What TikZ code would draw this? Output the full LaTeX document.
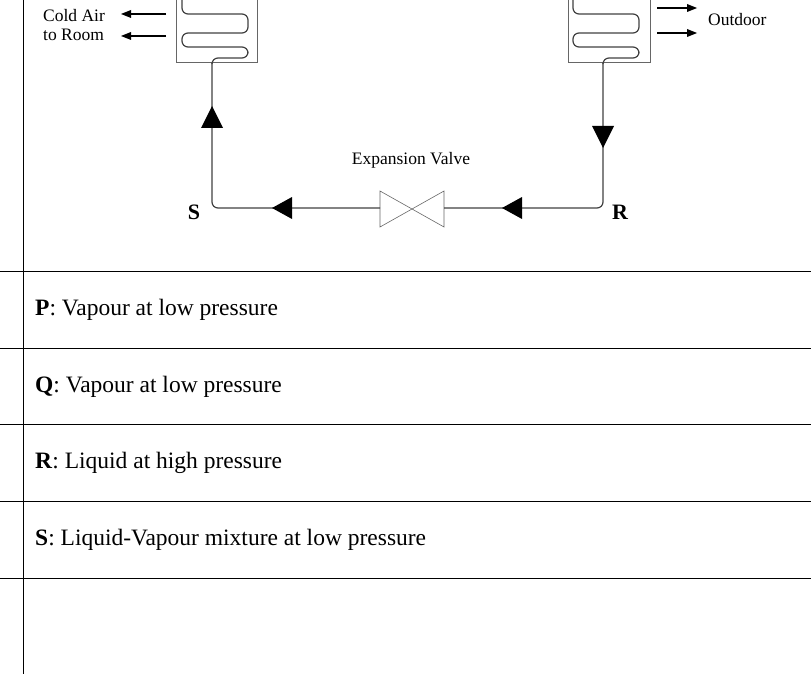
\documentclass[tikz,border=0pt]{standalone}
\usepackage{fontspec}
\setmainfont{Liberation Serif}
\begin{document}
\begin{tikzpicture}[x=1pt,y=-1pt,
  pipe/.style={draw=black!75,line width=1.2pt,rounded corners=6pt},
  box/.style={draw=black!60,line width=0.6pt},
  tri/.style={fill=black},
  small/.style={font=\fontsize{17.5}{19}\selectfont,inner sep=0},
  row/.style={font=\fontsize{23.5}{27}\selectfont,anchor=west,inner sep=0},
  air/.style={line width=1.6pt}]
\useasboundingbox (0,0) rectangle (811,674);
\draw[line width=0.6pt] (23,0) -- (23,674);
\foreach \y in {271,348,424,501,578} \draw[line width=0.6pt] (0,\y) -- (811,\y);
% boxes
\node[box,minimum width=81pt,minimum height=70pt,anchor=south west,inner sep=0] (eb) at (176,63) {};
\node[box,minimum width=82pt,minimum height=70pt,anchor=south west,inner sep=0] (cb) at (568,63) {};
% coils
\draw[pipe] (212,63) -- (212,58) -- (248,58) -- (248,47) -- (182,47) -- (182,33) -- (248,33) -- (248,14) -- (182,14) -- (182,-10);
\draw[pipe] (603,63) -- (603,58) -- (639,58) -- (639,47) -- (573,47) -- (573,33) -- (639,33) -- (639,14) -- (573,14) -- (573,-10);
% valve
\coordinate (vl) at (380,208); \coordinate (vr) at (444,208);
\draw[box] (380,191) -- (444,227) -- (444,191) -- (380,227) -- cycle;
\node[small] (ev) at (411,160) {Expansion Valve};
% loop
\draw[pipe] (vl) -- (212,208) -- (212,63);
\draw[pipe] (vr) -- (603,208) -- (603,63);
\fill[tri] (212,106) -- (201,128) -- (223,128) -- cycle;
\fill[tri] (603,148) -- (592,126) -- (614,126) -- cycle;
\fill[tri] (272,208) -- (292,197) -- (292,219) -- cycle;
\fill[tri] (502,208) -- (522,197) -- (522,219) -- cycle;
\node[font=\fontsize{22}{26}\selectfont\bfseries,inner sep=0] (s) at (194,212) {S};
\node[font=\fontsize{22}{26}\selectfont\bfseries,inner sep=0] (r) at (620,212) {R};
% air
\node[small,align=left,anchor=west] (ca) at (43,25) {Cold Air\\to Room};
\foreach \y in {14,36} {
  \draw[air] (166,\y) -- (130,\y);
  \fill (121,\y) -- (131,\y-4) -- (131,\y+4) -- cycle;}
\foreach \y in {8,33} {
  \draw[air] (657,\y) -- (688,\y);
  \fill (697,\y) -- (687,\y-4) -- (687,\y+4) -- cycle;}
\node[small,anchor=west] (od) at (708,20) {Outdoor};
% rows
\node[row] (p) at (35,310) {\textbf{P}: Vapour at low pressure};
\node[row] (q) at (35,387) {\textbf{Q}: Vapour at low pressure};
\node[row] (rr) at (35,463) {\textbf{R}: Liquid at high pressure};
\node[row] (ss) at (35,540) {\textbf{S}: Liquid-Vapour mixture at low pressure};
\end{tikzpicture}
\end{document}
